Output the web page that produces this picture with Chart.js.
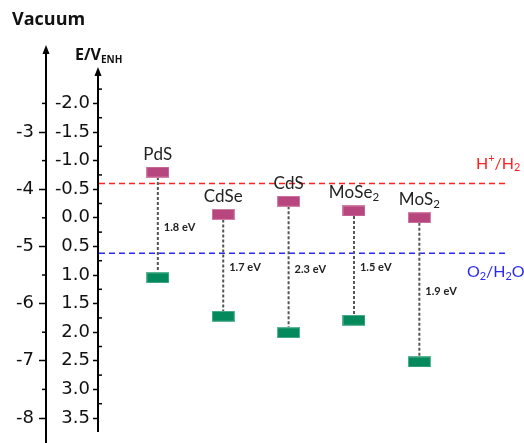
<!DOCTYPE html>
<html>
<head>
<meta charset="utf-8">
<script src="https://cdn.jsdelivr.net/npm/chart.js@4.4.1/dist/chart.umd.min.js"></script>
<style>
  html, body { margin: 0; padding: 0; background: #fff; }
  #wrap { width: 524px; height: 443px; }
</style>
</head>
<body>
<div id="wrap"><canvas id="c" width="524" height="443"></canvas></div>
<script>
// Band edges of each semiconductor (V vs NHE)
const materials = ['PdS', 'CdSe', 'CdS', 'MoSe₂', 'MoS₂'];
const conductionBand = [-0.80, -0.06, -0.29, -0.12, 0.00];
const valenceBand = [1.05, 1.72, 2.01, 1.79, 2.52];
const gapLabels = ['1.8 eV', '1.7 eV', '2.3 eV', '1.5 eV', '1.9 eV'];

// Water redox potentials (V vs NHE)
const redoxNames = ['H⁺/H₂', 'O₂/H₂O'];
const redoxLevels = [-0.60, 0.62];

// Axis ticks
const potentialTicks = [-2.0, -1.5, -1.0, -0.5, 0.0, 0.5, 1.0, 1.5, 2.0, 2.5, 3.0, 3.5];
const potentialMinor = [-2.25, -1.75, -1.25, -0.75, -0.25, 0.25, 0.75, 1.25, 1.75, 2.25, 2.75, 3.25];
const vacuumTicks = [-3, -4, -5, -6, -7, -8];
const vacuumMinor = [-2.5, -3.5, -4.5, -5.5, -6.5, -7.5];

// vacuum level = VACUUM_OFFSET - potential
const VACUUM_OFFSET = -4.5;
const E_MIN = -3.808, E_MAX = 3.937;
const X_MIN = -0.9, X_MAX = 5.31;

const CB_COLOR = '#b8467e';
const VB_COLOR = '#03895c';

function bandMarker(color, edge) {
  const c = document.createElement('canvas');
  c.width = 23; c.height = 11;
  const g = c.getContext('2d');
  g.fillStyle = edge;
  g.fillRect(0, 0, 23, 11);
  g.fillStyle = color;
  g.fillRect(1, 1, 21, 9);
  return c;
}
const cbMarker = bandMarker(CB_COLOR, '#d07fa5');
const vbMarker = bandMarker(VB_COLOR, '#5cb592');

const connectorData = [];
materials.forEach((m, i) => {
  connectorData.push({ x: i, y: conductionBand[i] });
  connectorData.push({ x: i, y: valenceBand[i] });
  connectorData.push({ x: i, y: null });
});

// Text with sub/superscripts
const SUB = { '₂': '2' }, SUP = { '⁺': '+' };
function drawRich(ctx, text, x, y, size, weight, family, color, align) {
  const parts = [];
  for (const ch of text) {
    if (SUB[ch]) parts.push({ t: SUB[ch], s: size * 0.68, dy: size * 0.28 });
    else if (SUP[ch]) parts.push({ t: SUP[ch], s: size * 0.68, dy: -size * 0.32 });
    else parts.push({ t: ch, s: size, dy: 0 });
  }
  ctx.save();
  ctx.fillStyle = color;
  ctx.textBaseline = 'middle';
  ctx.textAlign = 'left';
  let w = 0;
  parts.forEach(p => { ctx.font = `${weight} ${p.s}px ${family}`; p.w = ctx.measureText(p.t).width; w += p.w; });
  let cx = align === 'center' ? x - w / 2 : (align === 'right' ? x - w : x);
  parts.forEach(p => {
    ctx.font = `${weight} ${p.s}px ${family}`;
    ctx.fillText(p.t, cx, y + p.dy);
    cx += p.w;
  });
  ctx.restore();
  return w;
}

function fixAxis(width) {
  return function (scale) {
    scale.width = width;
    scale.paddingTop = 0;
    scale.paddingBottom = 0;
  };
}

const decorations = {
  id: 'decorations',
  afterDraw(chart) {
    const ctx = chart.ctx;
    const eS = chart.scales.e, vS = chart.scales.vac;
    const xS = chart.scales.x;
    ctx.save();
    ctx.strokeStyle = '#000';
    ctx.fillStyle = '#000';
    // axis lines with arrow heads
    const axes = [[vS.right - 1, 45, 443], [eS.right - 1, 67, 432]];
    axes.forEach(([ax, top, bottom]) => {
      ctx.lineWidth = 2;
      ctx.beginPath(); ctx.moveTo(ax, top + 4); ctx.lineTo(ax, bottom); ctx.stroke();
      ctx.beginPath();
      ctx.moveTo(ax, top); ctx.lineTo(ax - 3.5, top + 9); ctx.lineTo(ax + 3.5, top + 9);
      ctx.closePath(); ctx.fill();
    });
    // minor ticks
    ctx.lineWidth = 1.5;
    potentialMinor.forEach(v => {
      const y = eS.getPixelForValue(v);
      ctx.beginPath(); ctx.moveTo(eS.right - 1, y); ctx.lineTo(eS.right + 3, y); ctx.stroke();
    });
    vacuumMinor.forEach(v => {
      const y = vS.getPixelForValue(v);
      ctx.beginPath(); ctx.moveTo(vS.right - 1, y); ctx.lineTo(vS.right - 5, y); ctx.stroke();
    });
    ctx.restore();

    // axis titles
    drawRich(ctx, 'Vacuum', 12, 20, 18, 'bold', '"Open Sans"', '#111', 'left');
    const w = drawRich(ctx, 'E/V', 75, 55, 16, 'bold', '"Open Sans"', '#111', 'left');
    drawRich(ctx, 'ENH', 75 + w, 60, 10, 'bold', '"Open Sans"', '#111', 'left');

    // material names above conduction bands, band gaps beside connectors
    materials.forEach((m, i) => {
      const x = xS.getPixelForValue(i);
      const yc = eS.getPixelForValue(conductionBand[i]);
      const yv = eS.getPixelForValue(valenceBand[i]);
      drawRich(ctx, m, x, yc - 18, 17, 'normal', 'Lato', '#222', 'center');
      drawRich(ctx, gapLabels[i], x + 6, (yc + yv) / 2 + 2, 11, 'bold', 'Lato', '#222', 'left');
    });

    // redox labels
    drawRich(ctx, redoxNames[0], 476, eS.getPixelForValue(redoxLevels[0]) - 20, 16, 'normal', 'Lato', '#ff2020', 'left');
    drawRich(ctx, redoxNames[1], 467, eS.getPixelForValue(redoxLevels[1]) + 19, 16, 'normal', 'Lato', '#2a2af0', 'left');
  }
};

const onPotential = { xAxisID: 'x', yAxisID: 'e' };

new Chart(document.getElementById('c'), {
  data: {
    datasets: [
      {
        ...onPotential, type: 'scatter', label: 'CB', order: 0,
        data: materials.map((m, i) => ({ x: i, y: conductionBand[i] })),
        pointStyle: cbMarker, pointRadius: 6
      },
      {
        ...onPotential, type: 'scatter', label: 'VB', order: 0,
        data: materials.map((m, i) => ({ x: i, y: valenceBand[i] })),
        pointStyle: vbMarker, pointRadius: 6
      },
      {
        ...onPotential, type: 'line', label: 'gap', order: 1,
        data: connectorData, spanGaps: false,
        borderColor: '#555', borderWidth: 2, borderDash: [3, 2],
        pointRadius: 0, fill: false
      },
      {
        ...onPotential, type: 'line', label: redoxNames[0], order: 2,
        data: [{ x: X_MIN, y: redoxLevels[0] }, { x: X_MAX, y: redoxLevels[0] }],
        borderColor: '#ff2020', borderWidth: 1.5, borderDash: [6, 4], pointRadius: 0
      },
      {
        ...onPotential, type: 'line', label: redoxNames[1], order: 2,
        data: [{ x: X_MIN, y: redoxLevels[1] }, { x: X_MAX, y: redoxLevels[1] }],
        borderColor: '#2a2af0', borderWidth: 1.5, borderDash: [6, 4], pointRadius: 0
      }
    ]
  },
  options: {
    responsive: false,
    animation: false,
    devicePixelRatio: 1,
    layout: { autoPadding: false, padding: { left: 0, right: 19, top: 0, bottom: 0 } },
    plugins: { legend: { display: false }, tooltip: { enabled: false } },
    scales: {
      x: { type: 'linear', min: X_MIN, max: X_MAX, display: false },
      e: {
        type: 'linear', position: 'left', axis: 'y', reverse: true, weight: 0,
        min: E_MIN, max: E_MAX,
        border: { display: false },
        grid: { drawOnChartArea: false, drawTicks: true, tickLength: 6, tickColor: '#000', tickWidth: 1.5 },
        ticks: {
          padding: 3, color: '#111', font: { family: '"DejaVu Sans"', size: 18 },
          callback: v => Number(v).toFixed(1)
        },
        afterBuildTicks: s => { s.ticks = potentialTicks.map(v => ({ value: v })); },
        afterFit: fixAxis(52)
      },
      vac: {
        type: 'linear', position: 'left', axis: 'y', weight: 1,
        min: VACUUM_OFFSET - E_MAX, max: VACUUM_OFFSET - E_MIN,
        border: { display: false },
        grid: { drawOnChartArea: false, drawTicks: true, tickLength: 8, tickColor: '#000', tickWidth: 1.5 },
        ticks: {
          padding: 5, color: '#111', font: { family: '"DejaVu Sans"', size: 18 },
          callback: v => String(v)
        },
        afterBuildTicks: s => { s.ticks = vacuumTicks.map(v => ({ value: v })); },
        afterFit: fixAxis(47)
      }
    }
  },
  plugins: [decorations]
});
</script>
</body>
</html>
